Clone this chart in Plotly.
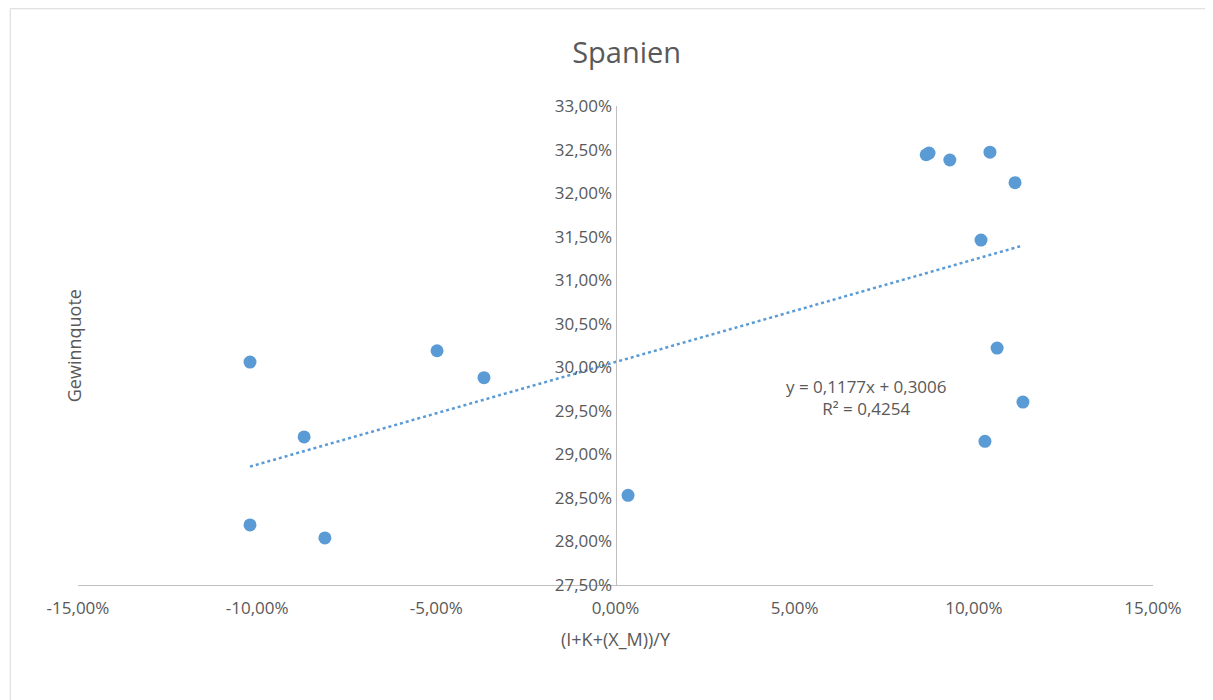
import plotly.graph_objects as go

x_vals = [-0.102, -0.102, -0.0869, -0.0811, -0.0498, -0.0367, 0.0035, 0.0867, 0.0875, 0.0933, 0.1045, 0.1115, 0.1020, 0.1065, 0.1137, 0.1031]
y_vals = [0.3006, 0.2819, 0.2920, 0.2804, 0.3019, 0.2988, 0.2853, 0.3244, 0.3246, 0.3238, 0.3247, 0.3212, 0.3146, 0.3022, 0.2960, 0.2915]
slope, intercept = 0.1177, 0.3006
trend_x = [min(x_vals), max(x_vals)]
trend_y = [slope * v + intercept for v in trend_x]

fig = go.Figure()
fig.add_trace(go.Scatter(x=trend_x, y=trend_y, mode="lines",
                         line=dict(color="#5B9BD5", width=2.5, dash="dot"), showlegend=False))
fig.add_trace(go.Scatter(x=x_vals, y=y_vals, mode="markers",
                         marker=dict(color="#5B9BD5", size=13), showlegend=False))

fig.update_layout(
    width=1213, height=700, paper_bgcolor="white", plot_bgcolor="white",
    margin=dict(l=70, r=68, t=98, b=123),
    font=dict(family="Open Sans, Noto Sans, sans-serif", color="#595959", size=17),
    title=dict(text="Spanien", x=0.51, xanchor="center", y=0.95, font=dict(size=29, color="#595959")),
    xaxis=dict(range=[-0.15, 0.15], tickvals=[-0.15, -0.1, -0.05, 0, 0.05, 0.1, 0.15],
               ticktext=["-15,00%", "-10,00%", "-5,00%", "0,00%", "5,00%", "10,00%", "15,00%"],
               showgrid=False, zeroline=False, showline=True, linecolor="#BFBFBF", linewidth=1,
               ticks="", ticklabelstandoff=8,
               title=dict(text="(I+K+(X_M))/Y", font=dict(size=18, color="#595959"), standoff=14)),
    yaxis=dict(range=[0.275, 0.33], tickvals=[0.275 + 0.005 * i for i in range(12)],
               ticktext=[f"{27.5 + 0.5 * i:.2f}%".replace(".", ",") for i in range(12)],
               showgrid=False, zeroline=False, showline=True, linecolor="#BFBFBF", linewidth=1,
               anchor="free", position=0.5, ticks=""),
    annotations=[
        dict(text="y = 0,1177x + 0,3006<br>R² = 0,4254", x=0.07, y=0.2965, xref="x", yref="y",
             showarrow=False, font=dict(size=17, color="#595959"), align="center"),
        dict(text="Gewinnquote", x=-0.017, y=0.3025, xref="paper", yref="y", showarrow=False,
             textangle=-90, font=dict(size=18, color="#595959")),
    ],
    shapes=[dict(type="rect", xref="paper", yref="paper", x0=-0.063, x1=1.056, y0=-0.253, y1=1.203,
                 line=dict(color="#D9D9D9", width=1))],
)
fig.write_html("out.html")
